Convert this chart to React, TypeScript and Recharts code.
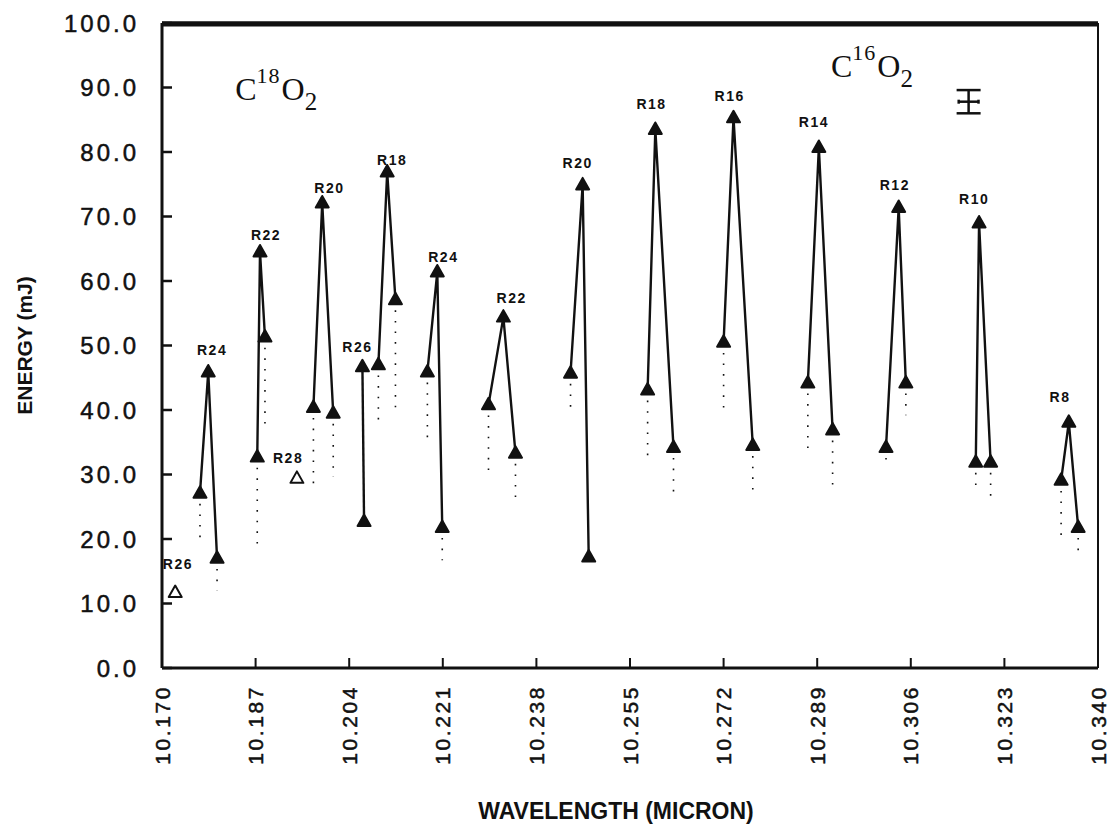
import React from 'react';
import { ScatterChart, Scatter, XAxis, YAxis, ErrorBar, Label, ReferenceLine } from 'recharts';

// wavelength (micron) vs laser energy (mJ)
const xTicks = [10.17, 10.187, 10.204, 10.221, 10.238, 10.255, 10.272, 10.289, 10.306, 10.323, 10.34];
const yTicks = [0, 10, 20, 30, 40, 50, 60, 70, 80, 90, 100];

type Pt = { w: number; e: number };

// C18O2 lines
const c18R26: Pt[] = [{ w: 10.1724, e: 11.7 }];
const c18R24: Pt[] = [{ w: 10.1769, e: 27.1 }, { w: 10.1784, e: 45.9 }, { w: 10.18, e: 17.0 }];
const c18R22: Pt[] = [{ w: 10.1873, e: 32.7 }, { w: 10.1878, e: 64.5 }, { w: 10.1887, e: 51.3 }];
const c18R28: Pt[] = [{ w: 10.1945, e: 29.4 }];
const c18R20: Pt[] = [{ w: 10.1975, e: 40.4 }, { w: 10.1991, e: 72.1 }, { w: 10.2011, e: 39.5 }];
const c18R26b: Pt[] = [{ w: 10.2064, e: 46.7 }, { w: 10.2067, e: 22.7 }];
const c18R18: Pt[] = [{ w: 10.2093, e: 47.0 }, { w: 10.2109, e: 76.9 }, { w: 10.2124, e: 57.1 }];
const c18R24b: Pt[] = [{ w: 10.2182, e: 45.9 }, { w: 10.22, e: 61.4 }, { w: 10.2209, e: 21.8 }];
const c18R22b: Pt[] = [{ w: 10.2293, e: 40.8 }, { w: 10.232, e: 54.4 }, { w: 10.2342, e: 33.3 }];

// C16O2 lines
const c16R20: Pt[] = [{ w: 10.2442, e: 45.7 }, { w: 10.2464, e: 74.9 }, { w: 10.2475, e: 17.2 }];
const c16R18: Pt[] = [{ w: 10.2582, e: 43.1 }, { w: 10.2596, e: 83.5 }, { w: 10.2629, e: 34.2 }];
const c16R16: Pt[] = [{ w: 10.272, e: 50.5 }, { w: 10.2738, e: 85.3 }, { w: 10.2773, e: 34.5 }];
const c16R14: Pt[] = [{ w: 10.2873, e: 44.2 }, { w: 10.2893, e: 80.7 }, { w: 10.2918, e: 36.9 }];
const c16R12: Pt[] = [{ w: 10.3015, e: 34.2 }, { w: 10.3038, e: 71.4 }, { w: 10.3051, e: 44.2 }];
const c16R10: Pt[] = [{ w: 10.3178, e: 31.9 }, { w: 10.3184, e: 69.0 }, { w: 10.3205, e: 31.9 }];
const c16R8: Pt[] = [{ w: 10.3333, e: 29.1 }, { w: 10.3347, e: 38.1 }, { w: 10.3364, e: 21.8 }];

const tracks = [
  c18R24, c18R22, c18R20, c18R26b, c18R18, c18R24b, c18R22b,
  c16R20, c16R18, c16R16, c16R14, c16R12, c16R10, c16R8,
];
const singles = [c18R26, c18R28];

// dotted drops under the low points: [wavelength, from, to]
const drops: [number, number, number][] = [
  [10.1769, 27.1, 19.0], [10.18, 17.0, 12.0],
  [10.1873, 32.7, 19.3], [10.1887, 51.3, 37.7],
  [10.1975, 40.4, 28.3], [10.2011, 39.5, 29.6],
  [10.2093, 47.0, 37.3], [10.2124, 57.1, 40.3],
  [10.2182, 45.9, 35.0], [10.2209, 21.8, 16.7],
  [10.2293, 40.8, 30.7], [10.2342, 33.3, 26.5],
  [10.2442, 45.7, 40.5],
  [10.2582, 43.1, 32.5], [10.2629, 34.2, 26.5],
  [10.272, 50.5, 40.3], [10.2773, 34.5, 27.6],
  [10.2873, 44.2, 32.7], [10.2918, 36.9, 27.1],
  [10.3015, 34.2, 31.0], [10.3051, 44.2, 39.2],
  [10.3178, 31.9, 27.3], [10.3205, 31.9, 26.5],
  [10.3333, 29.1, 19.3], [10.3364, 21.8, 18.0],
];

const lineLabels = [
  { w: 10.1729, e: 16.2, text: 'R26' },
  { w: 10.1791, e: 49.3, text: 'R24' },
  { w: 10.1889, e: 67.2, text: 'R22' },
  { w: 10.1929, e: 32.5, text: 'R28' },
  { w: 10.2004, e: 74.5, text: 'R20' },
  { w: 10.2055, e: 49.8, text: 'R26' },
  { w: 10.2118, e: 78.8, text: 'R18' },
  { w: 10.2211, e: 63.7, text: 'R24' },
  { w: 10.2335, e: 57.4, text: 'R22' },
  { w: 10.2455, e: 78.3, text: 'R20' },
  { w: 10.2589, e: 87.5, text: 'R18' },
  { w: 10.2731, e: 88.7, text: 'R16' },
  { w: 10.2884, e: 84.6, text: 'R14' },
  { w: 10.3031, e: 74.9, text: 'R12' },
  { w: 10.3175, e: 72.7, text: 'R10' },
  { w: 10.3331, e: 42.0, text: 'R8' },
];

const formulas = [
  { w: 10.1833, e: 88.1, mass: '18' },
  { w: 10.2915, e: 91.7, mass: '16' },
];

// calibration cross: centre and half-widths
const calib = [{ w: 10.3165, e: 87.8, dw: 0.0018, de: 1.8 }];

const INK = '#111';
const SANS = "'Liberation Sans', Arial, Helvetica, sans-serif";
const SERIF = "'Liberation Serif', 'DejaVu Serif', serif";

const triangle = (open: boolean) => (p: any) => {
  const { cx, cy } = p;
  if (cx == null || cy == null) return <g />;
  return (
    <path
      d={`M${cx},${cy - 7} L${cx + 6.5},${cy + 4.5} L${cx - 6.5},${cy + 4.5} Z`}
      fill={open ? '#fff' : INK}
      stroke={INK}
      strokeWidth={2}
      strokeLinejoin="round"
    />
  );
};

const blank = () => <g />;

const labelShape = (p: any) => (
  <text x={p.cx} y={p.cy} dy="0.36em" textAnchor="middle" fontFamily={SANS} fontWeight="bold"
    fontSize={14} letterSpacing={1.5} fill={INK}>
    {p.payload.text}
  </text>
);

const formulaShape = (p: any) => (
  <text x={p.cx} y={p.cy} fontFamily={SERIF} fontSize={32} fill={INK}>
    C
    <tspan dy={-17} fontSize={22} letterSpacing={1}>{p.payload.mass}</tspan>
    <tspan dy={17} dx={1}>O</tspan>
    <tspan dy={10} fontSize={25}>2</tspan>
  </text>
);

const XTick = (p: any) => {
  const { x, y, payload } = p;
  return (
    <text x={x} y={y} dy="0.36em" transform={`rotate(-90, ${x}, ${y})`} textAnchor="end"
      fontFamily={SANS} fontSize={21} letterSpacing={2.6} fill={INK} stroke={INK} strokeWidth={0.5}>
      {Number(payload.value).toFixed(3)}
    </text>
  );
};

const YTick = (p: any) => {
  const { x, y, payload } = p;
  return (
    <text x={x} y={y} dy="0.36em" textAnchor="end" fontFamily={SANS} fontSize={24}
      letterSpacing={3} fill={INK} stroke={INK} strokeWidth={0.5}>
      {Number(payload.value).toFixed(1)}
    </text>
  );
};

export default function App() {
  const xDomain: [number, number] = [xTicks[0], xTicks[xTicks.length - 1]];
  const yTop = yTicks[yTicks.length - 1];
  const topBorder = [{ w: xDomain[0], e: yTop - 0.3 }, { w: xDomain[1], e: yTop - 0.3 }];
  return (
    <div style={{ position: 'absolute', left: 0, top: 0, width: 1115, height: 829, background: '#fff' }}>
      <ScatterChart width={1115} height={829} margin={{ top: 3, right: 0, bottom: 0, left: 0 }}>
        <XAxis
          type="number" dataKey="w" domain={xDomain} ticks={xTicks} interval={0}
          allowDataOverflow height={161} tickSize={-10} tickMargin={27}
          axisLine={{ stroke: INK, strokeWidth: 3 }} tickLine={{ stroke: INK, strokeWidth: 2 }}
          tick={<XTick />}
        >
          <Label
            content={(props: any) => {
              const vb = props.viewBox;
              return (
                <text x={vb.x + vb.width / 2 - 14} y={vb.y + 151} textAnchor="middle"
                  fontFamily={SANS} fontWeight="bold" fontSize={23} fill={INK}>
                  WAVELENGTH (MICRON)
                </text>
              );
            }}
          />
        </XAxis>
        <XAxis
          xAxisId="t" orientation="top" type="number" dataKey="w" domain={xDomain} ticks={xTicks}
          interval={0} height={20} tick={blank} tickSize={-9}
          axisLine={{ stroke: INK, strokeWidth: 3 }} tickLine={{ stroke: INK, strokeWidth: 2 }}
        />
        <YAxis
          type="number" dataKey="e" domain={[0, yTop]} ticks={yTicks} interval={0} allowDataOverflow
          width={162} tickSize={-10} tickMargin={33}
          axisLine={{ stroke: INK, strokeWidth: 3 }} tickLine={{ stroke: INK, strokeWidth: 2.5 }}
          tick={<YTick />}
        >
          <Label
            content={(props: any) => {
              const vb = props.viewBox;
              const cy = vb.y + vb.height / 2;
              return (
                <text x={24} y={cy} dy="0.36em" transform={`rotate(-90, 24, ${cy})`} textAnchor="middle"
                  fontFamily={SANS} fontWeight="bold" fontSize={21} fill={INK}>
                  ENERGY (mJ)
                </text>
              );
            }}
          />
        </YAxis>
        <YAxis
          yAxisId="r" orientation="right" type="number" dataKey="e" domain={[0, yTop]} ticks={yTicks}
          interval={0} width={17} tick={blank} tickSize={-10}
          axisLine={{ stroke: INK, strokeWidth: 2 }} tickLine={{ stroke: INK, strokeWidth: 2.5 }}
        />

        <ReferenceLine y={yTop} stroke={INK} strokeWidth={3} ifOverflow="visible" />
        <Scatter data={topBorder} line={{ stroke: INK, strokeWidth: 3 }} shape={blank} isAnimationActive={false} />

        {drops.map(([w, from, to], i) => (
          <Scatter
            key={`drop-${i}`}
            data={[{ w, e: from }, { w, e: to }]}
            line={{ stroke: INK, strokeWidth: 1.6, strokeDasharray: '1.6 9' }}
            shape={blank}
            isAnimationActive={false}
          />
        ))}

        {tracks.map((pts, i) => (
          <Scatter
            key={`track-${i}`}
            data={pts}
            line={{ stroke: INK, strokeWidth: 2.4 }}
            shape={triangle(false)}
            isAnimationActive={false}
          />
        ))}

        {singles.map((pts, i) => (
          <Scatter key={`single-${i}`} data={pts} shape={triangle(true)} isAnimationActive={false} />
        ))}

        <Scatter data={calib} shape={blank} isAnimationActive={false}>
          <ErrorBar dataKey="de" direction="y" width={12} stroke={INK} strokeWidth={2.5} />
          <ErrorBar dataKey="dw" direction="x" width={2} stroke={INK} strokeWidth={2.5} />
        </Scatter>

        <Scatter data={lineLabels} shape={labelShape} isAnimationActive={false} />
        <Scatter data={formulas} shape={formulaShape} isAnimationActive={false} />
      </ScatterChart>
    </div>
  );
}
